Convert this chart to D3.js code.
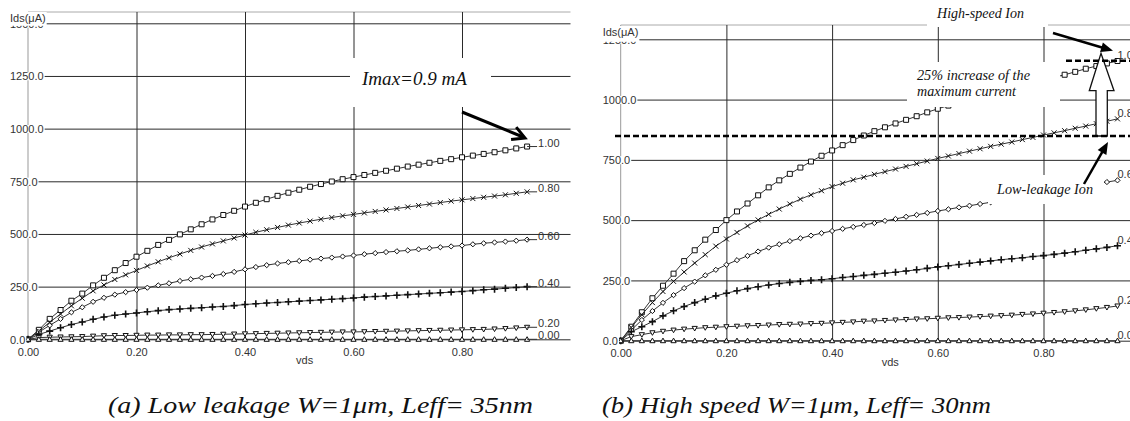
<!DOCTYPE html>
<html><head><meta charset="utf-8">
<script src="https://cdn.jsdelivr.net/npm/d3@7"></script>
<style>
html,body{margin:0;padding:0;background:#fff;}
svg{display:block;}
.tk{font-family:"Liberation Sans",Arial,sans-serif;font-size:11px;fill:#333;}
.ann{font-family:"Liberation Serif","Times New Roman",serif;font-style:italic;fill:#111;}
</style></head><body>
<svg id="c" width="1130" height="421"></svg>
<script>
// ---------- DATA ----------
const vdsLow = [0.00,0.02,0.04,0.06,0.08,0.10,0.12,0.14,0.16,0.18,0.20,0.22,0.24,0.26,0.28,0.30,0.32,0.34,0.36,0.38,0.40,0.42,0.44,0.46,0.48,0.50,0.52,0.54,0.56,0.58,0.60,0.62,0.64,0.66,0.68,0.70,0.72,0.74,0.76,0.78,0.80,0.82,0.84,0.86,0.88,0.90,0.92];
const vdsHigh = [0.00,0.02,0.04,0.06,0.08,0.10,0.12,0.14,0.16,0.18,0.20,0.22,0.24,0.26,0.28,0.30,0.32,0.34,0.36,0.38,0.40,0.42,0.44,0.46,0.48,0.50,0.52,0.54,0.56,0.58,0.60,0.62,0.64,0.66,0.68,0.70,0.72,0.74,0.76,0.78,0.80,0.82,0.84,0.86,0.88,0.90,0.92,0.94];

// (a) Low leakage, Ids (uA) per Vgs
const lowVg10 = [0,45,97,139,183,217,256,292,328,362,392,420,448,472,498,522,546,569,590,610,630,648,665,681,696,710,724,737,749,760,770,780,790,800,810,820,829,838,847,855,864,872,880,888,897,906,915];
const lowVg08 = [0,39,81,120,159,195,230,258,284,306,327,348,368,387,405,422,438,453,467,481,495,508,520,531,542,552,561,570,578,586,593,600,607,614,621,628,635,642,649,656,662,668,674,680,686,693,700];
const lowVg06 = [0,34,66,97,128,152,178,197,212,224,234,245,256,266,277,285,293,301,310,320,332,343,352,360,366,372,378,383,388,393,398,404,409,414,418,422,427,432,437,441,445,451,456,460,464,468,473];
const lowVg04 = [0,23,39,55,70,82,95,106,114,120,125,131,136,141,144,147,150,153,156,160,165,169,172,175,178,181,184,187,190,193,196,200,203,206,209,212,215,218,221,224,227,231,235,238,242,246,250];
const lowVg02 = [0,8,10,11,12,13,15,17,18,18,19,20,20,21,21,22,22,23,24,25,26,27,28,29,30,31,32,33,34,35,35,36,37,38,39,40,41,42,43,44,45,46,47,49,51,54,57];
const lowVg00 = [0,0,0,0,0,0,0,0,0,0,0,0,0,0,0,0,0,0,0,0,0,0,0,0,0,0,0,0,0,0,0,0,0,0,0,0,0,0,0,0,0,0,0,0,0,0,0];

// (b) High speed
const highVg10 = [0,58,118,176,228,278,330,375,419,459,500,536,569,603,636,665,692,718,743,767,789,811,832,851,869,885,901,916,931,947,962,975,989,1002,1015,1027,1039,1050,1061,1072,1082,1092,1103,1115,1128,1139,1150,1160];
const highVg08 = [0,55,108,158,204,246,285,322,357,392,422,449,476,501,524,546,567,587,605,622,639,653,667,678,690,701,712,723,734,745,756,766,776,786,796,806,815,824,834,843,853,862,871,881,890,900,910,920];
const highVg06 = [0,44,86,123,157,189,218,245,271,294,315,334,352,370,386,400,413,425,436,446,455,464,472,480,488,497,505,514,522,530,538,545,553,560,567,574,582,589,597,604,612,620,628,636,644,651,658,665];
const highVg04 = [0,37,58,79,103,124,142,158,172,186,197,207,216,224,231,237,242,246,250,253,257,262,266,271,275,280,284,289,294,300,306,311,316,321,326,331,336,340,344,349,353,358,363,369,375,381,387,394];
const highVg02 = [0,17,25,33,39,44,48,51,54,56,58,60,62,63,65,67,68,69,71,72,74,76,78,81,82,84,86,88,90,91,93,95,96,98,100,102,104,106,109,111,114,117,120,124,128,133,138,144];
const highVg00 = [0,0,0,0,0,0,0,0,0,0,0,0,0,0,0,0,0,0,0,0,0,0,0,0,0,0,0,0,0,0,0,0,0,0,0,0,0,0,0,0,0,0,0,0,0,0,0,0];

const lowLabels  = ["1.00","0.80","0.60","0.40","0.20","0.00"];
const highLabels = ["1.0","0.8","0.6","0.4","0.2","0.0"];
const yTicksLow  = [0,250,500,750,1000,1250,1500];
const yTicksHigh = [0,250,500,750,1000,1250];
const xTicks = [0,0.2,0.4,0.6,0.8];
const ionLevels = [849,1161]; // low-leakage Ion, high-speed Ion (uA)
const captions = ["(a) Low leakage W=1μm, Leff= 35nm","(b) High speed W=1μm, Leff= 30nm"];

// ---------- DRAW ----------
const svg = d3.select('#c');
svg.append('rect').attr('width',1130).attr('height',421).attr('fill','#fff');

const markers = [
  {d:'M-2.5,-2.5h5v5h-5Z', fill:'#fff', sw:1},
  {d:'M-2.5,-2.5L2.5,2.5M-2.5,2.5L2.5,-2.5', fill:'none', sw:1},
  {d:'M0,-2.6L2.6,0L0,2.6L-2.6,0Z', fill:'#fff', sw:1},
  {d:'M-3.5,0H3.5M0,-3.5V3.5', fill:'none', sw:1.6},
  {d:'M-2.6,-2L2.6,-2L0,2.6Z', fill:'#fff', sw:1},
  {d:'M-2.6,2L2.6,2L0,-2.6Z', fill:'#fff', sw:1}
];

function drawChart(o){
  const x = d3.scaleLinear().domain([0,1]).range([o.xl,o.xr]);
  const y = d3.scaleLinear().domain([0,o.yMax]).range([o.yb,o.yt]);
  const g = svg.append('g');
  const right = Math.min(o.xr,1130);
  g.append('line').attr('x1',o.xl).attr('x2',right).attr('y1',o.frameY).attr('y2',o.frameY).attr('stroke','#aaa');
  g.append('line').attr('x1',o.xl).attr('x2',o.xl).attr('y1',o.frameY).attr('y2',o.yb).attr('stroke','#999');
  const hg = g.append('g').attr('transform',`translate(${o.xl},0)`)
    .call(d3.axisLeft(y).tickValues(o.yTicks).tickSize(-(right-o.xl)).tickFormat(''));
  hg.select('.domain').remove();
  hg.selectAll('line').attr('stroke','#2a2a2a');
  const vg = g.append('g').attr('transform',`translate(0,${o.yb})`)
    .call(d3.axisBottom(x).tickValues(xTicks.slice(1)).tickSize(-(o.yb-o.frameY)).tickFormat(''));
  vg.select('.domain').remove();
  vg.selectAll('line').attr('stroke','#2a2a2a');

  const line = d3.line().x((d,i)=>x(o.vds[i])).y(d=>y(d));
  o.series.forEach((s,k)=>{
    g.append('path').datum(s).attr('d',line).attr('fill','none').attr('stroke','#333').attr('stroke-width',1);
    g.append('g').selectAll('path').data(s).join('path')
      .attr('transform',(d,i)=>`translate(${x(o.vds[i])},${y(d)})`)
      .attr('d',markers[k].d).attr('fill',markers[k].fill).attr('stroke','#111').attr('stroke-width',markers[k].sw);
    const last = s[s.length-1], lx = x(o.vds[o.vds.length-1]);
    if(o.stub>0) g.append('line').attr('x1',lx).attr('x2',lx+o.stub).attr('y1',y(last)).attr('y2',y(last)).attr('stroke','#333');
    g.append('text').attr('class','tk').attr('x',lx+o.labDx).attr('y',y(last)+o.labDy).text(o.labels[k]);
  });

  const xa = g.append('g').attr('transform',`translate(0,${o.yb})`)
    .call(d3.axisBottom(x).tickValues(xTicks).tickSize(0).tickPadding(9).tickFormat(d3.format('.2f')));
  xa.select('.domain').remove();
  xa.selectAll('text').attr('class','tk');
  g.append('text').attr('class','tk').attr('x',x(0.51)).attr('y',o.yb+25).attr('text-anchor','middle').text('vds');

  const ya = g.append('g').attr('transform',`translate(${o.xl},0)`)
    .call(d3.axisLeft(y).tickValues(o.yTicks).tickSize(0).tickFormat(d3.format('.1f')));
  ya.select('.domain').remove();
  ya.selectAll('text').attr('class','tk').attr('text-anchor','start').attr('x',-18).attr('dy','0.35em');
  ya.selectAll('.tick').each(function(){
    const t = d3.select(this).select('text');
    const b = t.node().getBBox();
    d3.select(this).insert('rect','text').attr('x',b.x-1).attr('y',b.y+2).attr('width',b.width+2).attr('height',b.height-4).attr('fill','#fff');
  });
  // Ids label (drawn over the top tick label, as in the original)
  const topY = y(o.yTicks[o.yTicks.length-1]);
  const il = g.append('text').attr('class','tk').attr('x',o.xl-18).attr('y',o.idsY).text('Ids(μA)');
  const ib = il.node().getBBox();
  g.insert('rect', () => il.node()).attr('x',ib.x-1).attr('y',ib.y).attr('width',ib.width+2)
    .attr('height',topY+2.5-ib.y).attr('fill','#fff');
  return {x,y};
}

const A = drawChart({vds:vdsLow, series:[lowVg10,lowVg08,lowVg06,lowVg04,lowVg02,lowVg00], labels:lowLabels,
  xl:28, xr:570.5, yb:339.3, yt:23.3, yMax:1500, frameY:12, yTicks:yTicksLow, stub:10, labDx:11, labDy:0, idsY:22});
const B = drawChart({vds:vdsHigh, series:[highVg10,highVg08,highVg06,highVg04,highVg02,highVg00], labels:highLabels,
  xl:620.7, xr:1149.2, yb:340.7, yt:39.3, yMax:1250, frameY:25, yTicks:yTicksHigh, stub:0, labDx:0, labDy:-2, idsY:36});

function arrowHead(x1,y1,x2,y2,len,half){
  const a = Math.atan2(y2-y1,x2-x1);
  const bx = x2-len*Math.cos(a), by = y2-len*Math.sin(a);
  return `M${x2},${y2}L${bx+half*Math.sin(a)},${by-half*Math.cos(a)}L${bx-half*Math.sin(a)},${by+half*Math.cos(a)}Z`;
}

// (a) annotation
svg.append('rect').attr('x',350).attr('y',58).attr('width',141).attr('height',49).attr('fill','#fff');
svg.append('text').attr('class','ann').attr('x',362).attr('y',85).attr('font-size',19)
  .attr('textLength',105).attr('lengthAdjust','spacingAndGlyphs').text('Imax=0.9 mA');
(function(){
  const x1=462,y1=112,x2=525,y2=138;
  svg.append('line').attr('x1',x1).attr('y1',y1).attr('x2',x2-2).attr('y2',y2-1).attr('stroke','#000').attr('stroke-width',3);
  const a=Math.atan2(y2-y1,x2-x1), L=14;
  const p1=[x2-L*Math.cos(a-0.5), y2-L*Math.sin(a-0.5)], p2=[x2-L*Math.cos(a+0.5), y2-L*Math.sin(a+0.5)];
  svg.append('path').attr('d',`M${p1}L${x2},${y2}L${p2}`).attr('fill','none').attr('stroke','#000').attr('stroke-width',3).attr('stroke-linejoin','miter');
})();

// (b) annotations
svg.append('rect').attr('x',927).attr('y',0).attr('width',121).attr('height',27).attr('fill','#fff');
svg.append('text').attr('class','ann').attr('x',937).attr('y',18).attr('font-size',14.5)
  .attr('textLength',87).attr('lengthAdjust','spacingAndGlyphs').text('High-speed Ion');
svg.append('rect').attr('x',907).attr('y',62).attr('width',153).attr('height',45).attr('fill','#fff');
svg.append('text').attr('class','ann').attr('x',917).attr('y',80).attr('font-size',14.5)
  .attr('textLength',113).attr('lengthAdjust','spacingAndGlyphs').text('25% increase of the');
svg.append('text').attr('class','ann').attr('x',917).attr('y',96).attr('font-size',14.5)
  .attr('textLength',99).attr('lengthAdjust','spacingAndGlyphs').text('maximum current');
svg.append('rect').attr('x',988).attr('y',175).attr('width',116).attr('height',29).attr('fill','#fff');
svg.append('text').attr('class','ann').attr('x',997).attr('y',194).attr('font-size',14.5)
  .attr('textLength',96).attr('lengthAdjust','spacingAndGlyphs').text('Low-leakage Ion');

// hollow arrow
const yLow = B.y(ionLevels[0]), yHigh = B.y(ionLevels[1]);
svg.append('path').attr('d',`M1096,${yLow}V90.7H1089.3L1101,${yHigh-7.5}L1114,90.7H1107.3V${yLow}Z`)
  .attr('fill','#fff').attr('stroke','#111').attr('stroke-width',1.3);
// dashed Ion lines
svg.append('line').attr('x1',615).attr('x2',1130).attr('y1',yLow).attr('y2',yLow)
  .attr('stroke','#000').attr('stroke-width',2.5).attr('stroke-dasharray','6,3');
svg.append('line').attr('x1',1066).attr('x2',1130).attr('y1',yHigh).attr('y2',yHigh)
  .attr('stroke','#000').attr('stroke-width',2.5).attr('stroke-dasharray','6,3');
// solid arrows
function solidArrow(x1,y1,x2,y2){
  const a=Math.atan2(y2-y1,x2-x1);
  svg.append('line').attr('x1',x1).attr('y1',y1).attr('x2',x2-8*Math.cos(a)).attr('y2',y2-8*Math.sin(a)).attr('stroke','#000').attr('stroke-width',2.5);
  svg.append('path').attr('d',arrowHead(x1,y1,x2,y2,12,5)).attr('fill','#000');
}
solidArrow(1053,33,1113,50.7);
solidArrow(1084,184,1108,142);

// captions
svg.append('text').attr('class','ann').attr('x',108).attr('y',413).attr('font-size',23)
  .attr('textLength',425).attr('lengthAdjust','spacingAndGlyphs').text(captions[0]);
svg.append('text').attr('class','ann').attr('x',602).attr('y',413).attr('font-size',23)
  .attr('textLength',389).attr('lengthAdjust','spacingAndGlyphs').text(captions[1]);
</script>
</body></html>
